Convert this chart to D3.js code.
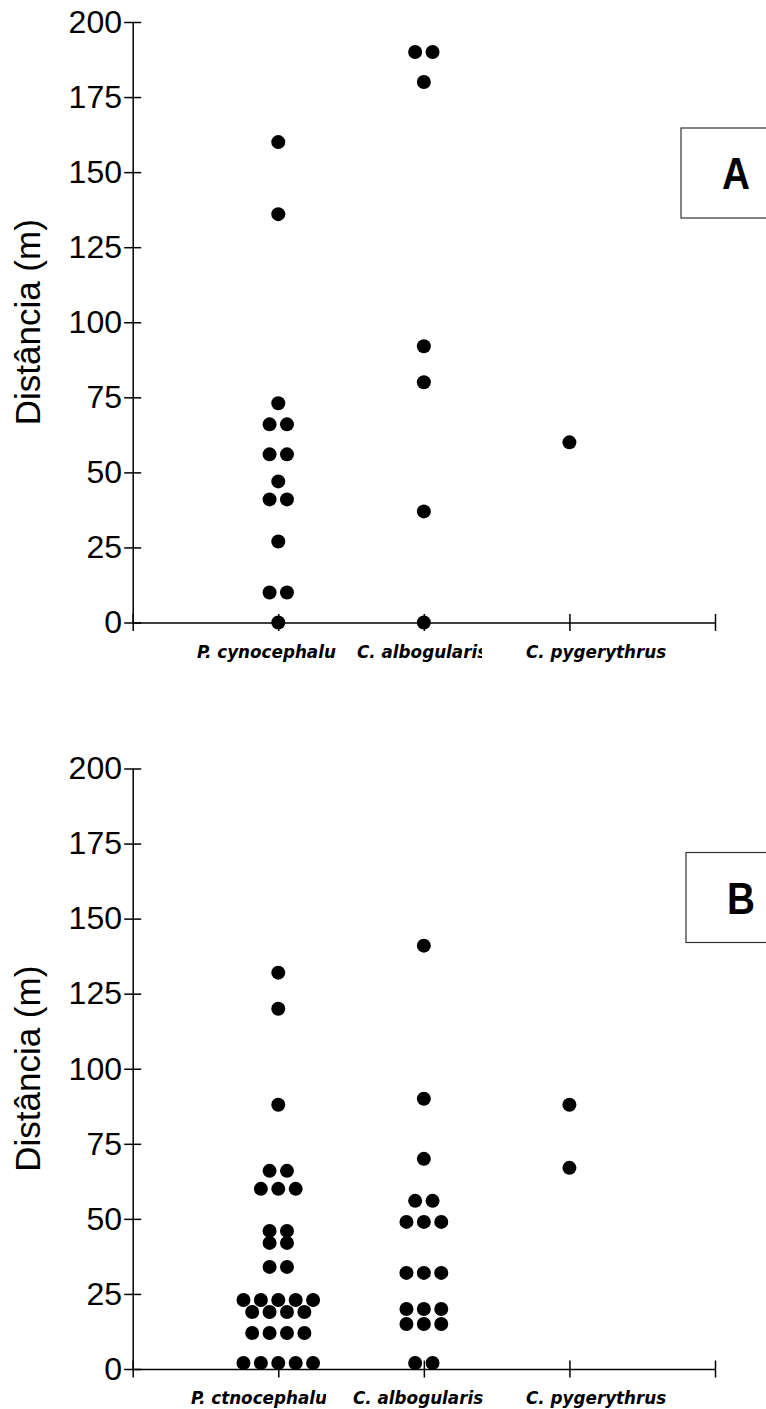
<!DOCTYPE html>
<html>
<head>
<meta charset="utf-8">
<script src="https://d3js.org/d3.v7.min.js"></script>
<style>
  body { margin: 0; background: #fff; }
  svg { display: block; }
</style>
</head>
<body>
<div id="chart"></div>
<script>
// Données
const yTicks = [0, 25, 50, 75, 100, 125, 150, 175, 200];
const labelsA = ["P. cynocephalus", "C. albogularis", "C. pygerythrus"];
const labelsB = ["P. ctnocephalus", "C. albogularis", "C. pygerythrus"];

// Panneau A
const cynoA = [160, 136, 73, 66, 66, 56, 56, 47, 41, 41, 27, 10, 10, 0];
const albA = [190, 190, 180, 92, 80, 37, 0];
const pygA = [60];

// Panneau B
const cynoB = [132, 120, 88, 66, 66, 60, 60, 60, 46, 46, 42, 42, 34, 34,
  23, 23, 23, 23, 23, 19, 19, 19, 19, 12, 12, 12, 12, 2, 2, 2, 2, 2];
const albB = [141, 90, 70, 56, 56, 49, 49, 49, 32, 32, 32, 20, 20, 20, 15, 15, 15, 2, 2];
const pygB = [88, 67];

// Configuration
const width = 766;
const height = 1409;
const axisX = 132.7;
const axisEnd = 715;
const dotR = 7;
const dotGap = 17.4;

const svg = d3.select("#chart").append("svg")
  .attr("width", width)
  .attr("height", height);

const x = d3.scaleLinear().domain([0, 4]).range([axisX, axisEnd]);
const y = d3.scaleLinear().domain([0, 200]).range([622.5, 22]);

function drawPanel(top, series, labels, labelLayout, letter, box) {
  const g = svg.append("g").attr("transform", `translate(0,${top})`);

  // axe Y
  const yAxis = g.append("g")
    .attr("transform", `translate(${axisX},0)`)
    .call(d3.axisLeft(y).tickValues(yTicks).tickSize(8.5).tickSizeOuter(0).tickPadding(2.2));
  yAxis.selectAll(".tick line").attr("x1", 8.5);
  yAxis.selectAll("path, line").attr("stroke", "#000").attr("stroke-width", 1.5);
  yAxis.selectAll("text")
    .attr("font-family", "'Liberation Sans', Arial, sans-serif")
    .attr("font-size", 32)
    .attr("fill", "#000");

  // axe X
  const xAxis = g.append("g")
    .attr("transform", `translate(0,${y(0)})`)
    .call(d3.axisBottom(x).tickValues([0, 1, 2, 3, 4]).tickSize(8.5).tickSizeOuter(0).tickFormat(""));
  xAxis.selectAll(".tick line").attr("y1", -8.5);
  xAxis.selectAll("path, line").attr("stroke", "#000").attr("stroke-width", 1.5);

  // titre de l'axe Y
  g.append("text")
    .attr("transform", `translate(39.5,${(y(0) + y(200)) / 2}) rotate(-90)`)
    .attr("text-anchor", "middle")
    .attr("font-family", "'Liberation Sans', Arial, sans-serif")
    .attr("font-size", 35)
    .text("Distância (m)");

  // points, empilés horizontalement quand les valeurs sont égales
  series.forEach((values, i) => {
    const groups = d3.groups(values, (v) => v);
    groups.forEach(([v, arr]) => {
      arr.forEach((_, k) => {
        g.append("circle")
          .attr("cx", x(i + 1) + (k - (arr.length - 1) / 2) * dotGap)
          .attr("cy", y(v))
          .attr("r", dotR)
          .attr("fill", "#000");
      });
    });
  });

  // étiquettes des catégories
  labels.forEach((label, i) => {
    const lay = labelLayout[i];
    const id = `clip-${letter}-${i}`;
    g.append("clipPath").attr("id", id)
      .append("rect")
      .attr("x", lay.start)
      .attr("y", y(0) + 10)
      .attr("width", lay.clip - lay.start)
      .attr("height", 40);
    g.append("text")
      .attr("x", lay.start)
      .attr("y", y(0) + 35)
      .attr("clip-path", `url(#${id})`)
      .attr("font-family", "'DejaVu Sans', sans-serif")
      .attr("font-weight", "bold")
      .attr("font-style", "italic")
      .attr("font-size", 16.8)
      .text(label);
  });

  // encadré de la lettre
  g.append("rect")
    .attr("x", box.x)
    .attr("y", box.y)
    .attr("width", 200)
    .attr("height", 90)
    .attr("fill", "#fff")
    .attr("stroke", "#333")
    .attr("stroke-width", 1.2);
  g.append("text")
    .attr("transform", `translate(${box.x + 55},${box.y + 61}) scale(0.88,1)`)
    .attr("text-anchor", "middle")
    .attr("font-family", "'Liberation Sans', Arial, sans-serif")
    .attr("font-weight", "bold")
    .attr("font-size", 44)
    .text(letter);
}

drawPanel(0, [cynoA, albA, pygA], labelsA,
  [{ start: 197, clip: 336 }, { start: 357, clip: 482 }, { start: 526, clip: 700 }],
  "A", { x: 681, y: 128 });

drawPanel(746.5, [cynoB, albB, pygB], labelsB,
  [{ start: 191, clip: 326 }, { start: 353, clip: 520 }, { start: 526, clip: 700 }],
  "B", { x: 686, y: 106 });
</script>
</body>
</html>
